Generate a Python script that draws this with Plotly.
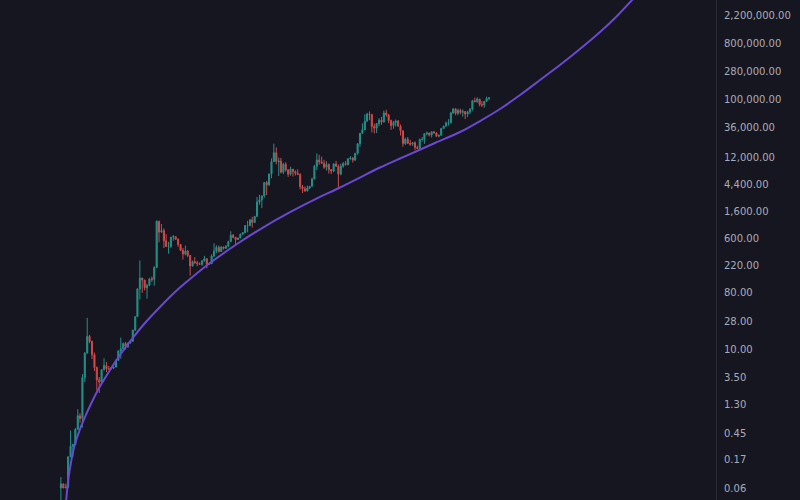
import pandas as pd
import plotly.graph_objects as go

# Monthly candles, 2010-07 .. 2025-06 (log price)
months = (pd.period_range("2010-07", "2025-06", freq="M").to_timestamp() + pd.Timedelta(days=14))

opens = [
    0.06, 0.07, 0.06, 0.062, 0.19, 0.28,
    0.30, 0.52, 0.86, 0.78, 3.5, 8.7, 16.1, 13.4, 8.2, 5.1, 3.25, 3.0,
    4.7, 5.5, 4.9, 4.9, 5.0, 5.2, 6.7, 9.4, 10.2, 12.4, 11.2, 12.6,
    13.5, 20.4, 33.4, 93, 139, 129, 97, 106, 135, 133, 204, 1130,
    757, 803, 549, 444, 447, 628, 640, 580, 478, 387, 338, 375,
    320, 217, 254, 244, 236, 230, 263, 284, 230, 236, 314, 377,
    430, 369, 437, 416, 448, 531, 673, 624, 575, 609, 700, 742,
    963, 970, 1190, 1080, 1350, 2300, 2480, 2875, 4700, 4340, 6470, 10200,
    14150, 10200, 10400, 6900, 9240, 7500, 6400, 7730, 7030, 6630, 6370, 4020,
    3740, 3460, 3850, 4100, 5350, 8570, 10800, 10100, 9600, 8300, 9200, 7570,
    7200, 9350, 8600, 6420, 8630, 9460, 9140, 11350, 11650, 10780, 13800, 19700,
    29000, 33100, 45200, 58800, 57700, 37300, 35000, 41500, 47100, 43800, 61300, 57000,
    46300, 38500, 43200, 45500, 37700, 31800, 19900, 23300, 20000, 19400, 20500, 17200,
    16550, 23100, 23150, 28500, 29250, 27200, 30500, 29250, 26000, 27000, 34700, 37700,
    42300, 42600, 61200, 71300, 60600, 67500, 62700, 64600, 59000, 63300, 70200, 96400,
    93400, 102400, 84400, 82500, 94200, 104600,
]
highs = [
    0.09, 0.07, 0.07, 0.19, 0.50, 0.30,
    0.55, 1.10, 0.95, 4.0, 9.0, 32.0, 17.0, 13.8, 8.9, 5.3, 3.6, 4.8,
    7.2, 6.3, 5.4, 5.2, 5.2, 6.8, 9.7, 15.4, 12.9, 13.1, 12.7, 13.7,
    20.4, 33.4, 95, 266, 140, 130, 112, 140, 147, 215, 1163, 1150,
    1020, 870, 700, 530, 630, 680, 650, 600, 490, 420, 460, 390,
    320, 265, 300, 262, 247, 268, 315, 285, 245, 335, 502, 465,
    462, 446, 440, 468, 551, 780, 705, 630, 614, 720, 756, 980,
    1150, 1210, 1330, 1350, 2760, 3000, 2920, 4760, 4980, 6470, 11500, 19800,
    17200, 11800, 11700, 9750, 9960, 7760, 8480, 7770, 7400, 7680, 6600, 4300,
    4100, 4200, 4150, 5640, 9070, 13800, 13150, 12300, 10900, 10370, 9500, 7750,
    9560, 10500, 9180, 9450, 10050, 10400, 11450, 12480, 12070, 14100, 19900, 29300,
    41900, 58400, 61800, 64900, 59600, 41300, 42400, 50500, 52900, 67000, 69000, 59000,
    48000, 45800, 48200, 47400, 40000, 31900, 24700, 25200, 22800, 21000, 21500, 18400,
    23900, 25250, 29200, 31000, 29800, 31400, 31800, 30200, 27500, 35200, 38400, 44700,
    48900, 64000, 73800, 72800, 72000, 71900, 70000, 65600, 66500, 73600, 99600, 108300,
    109600, 102500, 95000, 95700, 111900, 110500,
]
lows = [
    0.036, 0.06, 0.06, 0.06, 0.19, 0.19,
    0.29, 0.52, 0.67, 0.56, 3.0, 8.7, 12.5, 7.0, 4.5, 2.2, 2.0, 2.8,
    4.6, 4.3, 4.7, 4.8, 4.9, 5.2, 6.5, 7.1, 10.0, 9.9, 10.5, 12.4,
    13.3, 19.6, 33, 63, 80, 88, 65, 103, 120, 105, 203, 520,
    740, 420, 440, 340, 420, 550, 565, 440, 375, 275, 320, 300,
    152, 212, 236, 214, 228, 218, 253, 199, 225, 235, 300, 348,
    355, 363, 396, 411, 436, 528, 605, 480, 568, 604, 685, 742,
    750, 940, 890, 1060, 1350, 2080, 1830, 2690, 2970, 4160, 5500, 10700,
    9200, 6000, 6600, 6430, 7060, 5780, 6080, 5880, 6100, 6200, 3650, 3200,
    3350, 3390, 3700, 4100, 5330, 7460, 9070, 9400, 7800, 7300, 6550, 6430,
    6870, 8450, 3850, 6150, 8130, 8830, 8900, 10960, 9830, 10400, 13200, 17600,
    28100, 32300, 45000, 47000, 30000, 28800, 29300, 37300, 39600, 43300, 53300, 42000,
    32900, 34300, 37200, 37600, 26700, 17600, 18800, 19600, 18200, 18300, 15500, 16300,
    16500, 21400, 19600, 26900, 25800, 24800, 28900, 25200, 24900, 26600, 34100, 37600,
    38500, 41900, 59200, 56500, 56600, 58400, 53500, 49000, 52600, 58900, 66800, 90500,
    89200, 78200, 76600, 74500, 93400, 98200,
]
closes = [
    0.07, 0.06, 0.062, 0.19, 0.28, 0.30,
    0.52, 0.86, 0.78, 3.5, 8.7, 16.1, 13.4, 8.2, 5.1, 3.25, 3.0, 4.7,
    5.5, 4.9, 4.9, 5.0, 5.2, 6.7, 9.4, 10.2, 12.4, 11.2, 12.6, 13.5,
    20.4, 33.4, 93, 139, 129, 97, 106, 135, 133, 204, 1130, 757,
    803, 549, 444, 447, 628, 640, 580, 478, 387, 338, 375, 320,
    217, 254, 244, 236, 230, 263, 284, 230, 236, 314, 377, 430,
    369, 437, 416, 448, 531, 673, 624, 575, 609, 700, 742, 963,
    970, 1190, 1080, 1350, 2300, 2480, 2875, 4700, 4340, 6470, 10200, 14150,
    10200, 10400, 6900, 9240, 7500, 6400, 7730, 7030, 6630, 6370, 4020, 3740,
    3460, 3850, 4100, 5350, 8570, 10800, 10100, 9600, 8300, 9200, 7570, 7200,
    9350, 8600, 6420, 8630, 9460, 9140, 11350, 11650, 10780, 13800, 19700, 29000,
    33100, 45200, 58800, 57700, 37300, 35000, 41500, 47100, 43800, 61300, 57000, 46300,
    38500, 43200, 45500, 37700, 31800, 19900, 23300, 20000, 19400, 20500, 17200, 16550,
    23100, 23150, 28500, 29250, 27200, 30500, 29250, 26000, 27000, 34700, 37700, 42300,
    42600, 61200, 71300, 60600, 67500, 62700, 64600, 59000, 63300, 70200, 96400, 93400,
    102400, 84400, 82500, 94200, 104600, 107100,
]

# Power-law support curve
curve_dates = [
    "2010-09-18", "2010-10-13", "2010-11-08", "2010-12-03", "2011-01-10",
    "2011-03-15", "2011-05-17", "2011-07-20", "2011-10-30", "2012-03-31",
    "2012-08-05", "2013-01-18", "2013-06-19", "2013-12-27", "2014-07-06",
    "2015-01-13", "2015-08-30", "2016-09-02", "2017-06-22", "2018-07-09",
    "2019-06-17", "2020-03-10", "2020-12-15", "2021-08-27", "2022-05-08",
    "2022-12-11", "2023-07-27", "2024-06-10", "2025-02-20", "2025-11-01",
    "2026-07-14", "2027-03-25", "2027-12-04", "2028-08-15", "2029-04-27",
    "2029-11-04", "2030-07-03",
]
curve_prices = [
    0.0357, 0.0747, 0.1253, 0.1880, 0.3039,
    0.5284, 0.8228, 1.235, 2.228, 4.661,
    8.107, 15.47, 26.41, 47.67, 82.88,
    133.9, 228.7, 487.2, 838.0, 1575,
    2621, 3778, 5667, 8199, 11430,
    15080, 20250, 30380, 45600, 71000,
    119000, 207000, 359900, 649800, 1217000,
    2040000, 4267000,
]

tick_vals = [2200000, 800000, 280000, 100000, 36000, 12000, 4400, 1600, 600,
             220, 80, 28, 10, 3.5, 1.3, 0.45, 0.17, 0.06]
tick_text = ["2,200,000.00", "800,000.00", "280,000.00", "100,000.00", "36,000.00",
             "12,000.00", "4,400.00", "1,600.00", "600.00", "220.00", "80.00",
             "28.00", "10.00", "3.50", "1.30", "0.45", "0.17", "0.06"]

BG = "#161621"
UP = "#26a69a"
DOWN = "#ef5350"

fig = go.Figure()
fig.add_trace(go.Candlestick(
    x=months, open=opens, high=highs, low=lows, close=closes,
    increasing=dict(line=dict(color=UP, width=1), fillcolor=UP),
    decreasing=dict(line=dict(color=DOWN, width=1), fillcolor=DOWN),
    whiskerwidth=0, opacity=0.85, showlegend=False, hoverinfo="skip",
))
fig.add_trace(go.Scatter(
    x=curve_dates, y=curve_prices, mode="lines",
    line=dict(color="#6a48d2", width=2, shape="spline", smoothing=0.8),
    showlegend=False, hoverinfo="skip",
))

fig.update_layout(
    width=800, height=500,
    margin=dict(l=0, r=84, t=0, b=0),
    paper_bgcolor=BG, plot_bgcolor=BG,
    showlegend=False,
    xaxis=dict(type="date", range=["2008-05-31", "2033-05-12"], visible=False,
               rangeslider=dict(visible=False), showgrid=False, zeroline=False),
    yaxis=dict(type="log", side="right", range=[-1.414, 6.598],
               tickvals=tick_vals, ticktext=tick_text,
               showgrid=False, zeroline=False, showline=True,
               linecolor="#2b2b38", linewidth=1, ticks="",
               ticklabelstandoff=5,
               tickfont=dict(family="DejaVu Sans", size=10, color="#a9abb5")),
)

fig.write_html(
    "out.html",
    config={"displayModeBar": False},
    post_script="document.body.style.margin='0';document.body.style.background='#161621';",
)
